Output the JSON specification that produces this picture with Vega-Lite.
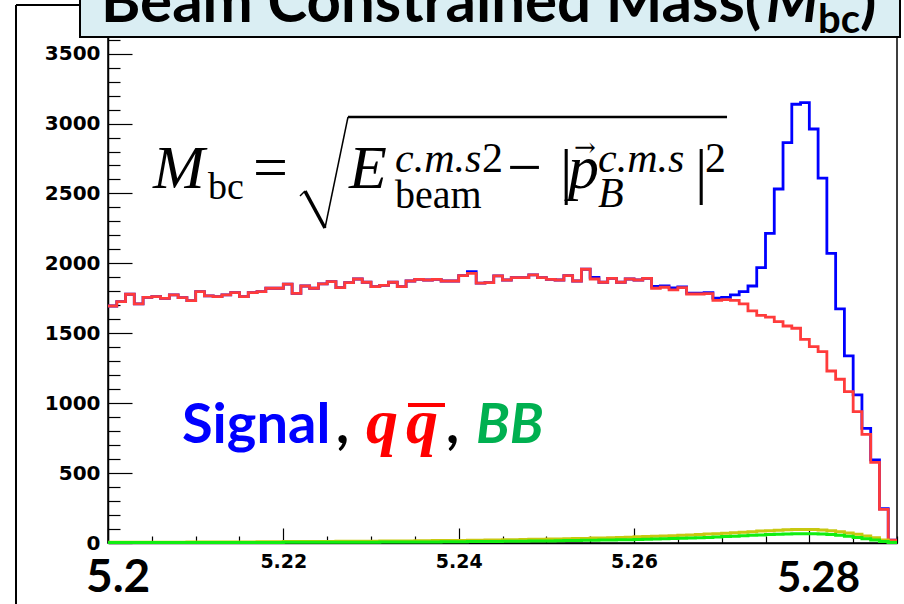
{
  "$schema": "https://vega.github.io/schema/vega-lite/v6.json",
  "width": 789,
  "height": 506,
  "autosize": "none",
  "padding": {"left": 108, "top": 37, "right": 7, "bottom": 61},
  "background": "white",
  "config": {
    "view": {"stroke": "black", "strokeWidth": 1.5},
    "axis": {"grid": false, "title": null, "domainColor": "black", "domainWidth": 1.5, "tickColor": "black", "tickWidth": 1.2, "labelColor": "black", "labelOverlap": false, "tickCount": 100}
  },
  "datasets": {
    "mbc": [
      {"x": 5.200, "qq": 1695, "tot": 1695, "bb": 3, "bby": 5},
      {"x": 5.201, "qq": 1726, "tot": 1726, "bb": 3, "bby": 5},
      {"x": 5.202, "qq": 1779, "tot": 1779, "bb": 3, "bby": 5},
      {"x": 5.203, "qq": 1710, "tot": 1710, "bb": 3, "bby": 5},
      {"x": 5.204, "qq": 1757, "tot": 1757, "bb": 3, "bby": 6},
      {"x": 5.205, "qq": 1762, "tot": 1762, "bb": 3, "bby": 6},
      {"x": 5.206, "qq": 1750, "tot": 1750, "bb": 3, "bby": 6},
      {"x": 5.207, "qq": 1774, "tot": 1774, "bb": 3, "bby": 6},
      {"x": 5.208, "qq": 1755, "tot": 1755, "bb": 3, "bby": 6},
      {"x": 5.209, "qq": 1733, "tot": 1733, "bb": 3, "bby": 7},
      {"x": 5.210, "qq": 1798, "tot": 1798, "bb": 4, "bby": 7},
      {"x": 5.211, "qq": 1767, "tot": 1767, "bb": 4, "bby": 7},
      {"x": 5.212, "qq": 1762, "tot": 1762, "bb": 4, "bby": 7},
      {"x": 5.213, "qq": 1774, "tot": 1774, "bb": 4, "bby": 8},
      {"x": 5.214, "qq": 1791, "tot": 1791, "bb": 4, "bby": 8},
      {"x": 5.215, "qq": 1762, "tot": 1762, "bb": 4, "bby": 8},
      {"x": 5.216, "qq": 1791, "tot": 1791, "bb": 4, "bby": 8},
      {"x": 5.217, "qq": 1798, "tot": 1798, "bb": 4, "bby": 9},
      {"x": 5.218, "qq": 1822, "tot": 1822, "bb": 4, "bby": 9},
      {"x": 5.219, "qq": 1822, "tot": 1822, "bb": 4, "bby": 9},
      {"x": 5.220, "qq": 1851, "tot": 1851, "bb": 5, "bby": 10},
      {"x": 5.221, "qq": 1786, "tot": 1786, "bb": 5, "bby": 10},
      {"x": 5.222, "qq": 1838, "tot": 1838, "bb": 5, "bby": 10},
      {"x": 5.223, "qq": 1822, "tot": 1822, "bb": 5, "bby": 11},
      {"x": 5.224, "qq": 1853, "tot": 1853, "bb": 5, "bby": 11},
      {"x": 5.225, "qq": 1869, "tot": 1869, "bb": 5, "bby": 11},
      {"x": 5.226, "qq": 1827, "tot": 1827, "bb": 5, "bby": 12},
      {"x": 5.227, "qq": 1862, "tot": 1862, "bb": 6, "bby": 12},
      {"x": 5.228, "qq": 1888, "tot": 1888, "bb": 6, "bby": 12},
      {"x": 5.229, "qq": 1865, "tot": 1865, "bb": 6, "bby": 13},
      {"x": 5.230, "qq": 1833, "tot": 1833, "bb": 6, "bby": 13},
      {"x": 5.231, "qq": 1843, "tot": 1843, "bb": 7, "bby": 14},
      {"x": 5.232, "qq": 1865, "tot": 1865, "bb": 7, "bby": 14},
      {"x": 5.233, "qq": 1833, "tot": 1833, "bb": 7, "bby": 15},
      {"x": 5.234, "qq": 1874, "tot": 1874, "bb": 7, "bby": 15},
      {"x": 5.235, "qq": 1886, "tot": 1886, "bb": 8, "bby": 16},
      {"x": 5.236, "qq": 1881, "tot": 1881, "bb": 8, "bby": 16},
      {"x": 5.237, "qq": 1886, "tot": 1886, "bb": 8, "bby": 17},
      {"x": 5.238, "qq": 1874, "tot": 1874, "bb": 9, "bby": 17},
      {"x": 5.239, "qq": 1874, "tot": 1874, "bb": 9, "bby": 18},
      {"x": 5.240, "qq": 1912, "tot": 1912, "bb": 9, "bby": 18},
      {"x": 5.241, "qq": 1929, "tot": 1940, "bb": 10, "bby": 19},
      {"x": 5.242, "qq": 1858, "tot": 1858, "bb": 10, "bby": 20},
      {"x": 5.243, "qq": 1862, "tot": 1862, "bb": 11, "bby": 21},
      {"x": 5.244, "qq": 1910, "tot": 1910, "bb": 11, "bby": 22},
      {"x": 5.245, "qq": 1881, "tot": 1881, "bb": 12, "bby": 23},
      {"x": 5.246, "qq": 1898, "tot": 1898, "bb": 12, "bby": 24},
      {"x": 5.247, "qq": 1898, "tot": 1898, "bb": 13, "bby": 25},
      {"x": 5.248, "qq": 1917, "tot": 1917, "bb": 14, "bby": 26},
      {"x": 5.249, "qq": 1898, "tot": 1898, "bb": 14, "bby": 27},
      {"x": 5.250, "qq": 1886, "tot": 1886, "bb": 15, "bby": 28},
      {"x": 5.251, "qq": 1881, "tot": 1881, "bb": 16, "bby": 29},
      {"x": 5.252, "qq": 1912, "tot": 1912, "bb": 17, "bby": 30},
      {"x": 5.253, "qq": 1874, "tot": 1874, "bb": 18, "bby": 32},
      {"x": 5.254, "qq": 1958, "tot": 1958, "bb": 19, "bby": 33},
      {"x": 5.255, "qq": 1888, "tot": 1900, "bb": 20, "bby": 35},
      {"x": 5.256, "qq": 1865, "tot": 1865, "bb": 21, "bby": 36},
      {"x": 5.257, "qq": 1893, "tot": 1893, "bb": 22, "bby": 38},
      {"x": 5.258, "qq": 1865, "tot": 1865, "bb": 23, "bby": 40},
      {"x": 5.259, "qq": 1888, "tot": 1888, "bb": 24, "bby": 42},
      {"x": 5.260, "qq": 1881, "tot": 1881, "bb": 25, "bby": 44},
      {"x": 5.261, "qq": 1893, "tot": 1893, "bb": 27, "bby": 46},
      {"x": 5.262, "qq": 1822, "tot": 1836, "bb": 28, "bby": 48},
      {"x": 5.263, "qq": 1829, "tot": 1839, "bb": 30, "bby": 50},
      {"x": 5.264, "qq": 1810, "tot": 1824, "bb": 32, "bby": 52},
      {"x": 5.265, "qq": 1827, "tot": 1832, "bb": 34, "bby": 55},
      {"x": 5.266, "qq": 1781, "tot": 1787, "bb": 36, "bby": 58},
      {"x": 5.267, "qq": 1781, "tot": 1787, "bb": 38, "bby": 61},
      {"x": 5.268, "qq": 1783, "tot": 1790, "bb": 40, "bby": 64},
      {"x": 5.269, "qq": 1735, "tot": 1752, "bb": 43, "bby": 67},
      {"x": 5.270, "qq": 1740, "tot": 1757, "bb": 46, "bby": 70},
      {"x": 5.271, "qq": 1735, "tot": 1774, "bb": 49, "bby": 74},
      {"x": 5.272, "qq": 1710, "tot": 1798, "bb": 52, "bby": 77},
      {"x": 5.273, "qq": 1660, "tot": 1838, "bb": 55, "bby": 81},
      {"x": 5.274, "qq": 1628, "tot": 1969, "bb": 58, "bby": 85},
      {"x": 5.275, "qq": 1616, "tot": 2215, "bb": 61, "bby": 88},
      {"x": 5.276, "qq": 1583, "tot": 2532, "bb": 63, "bby": 91},
      {"x": 5.277, "qq": 1552, "tot": 2863, "bb": 65, "bby": 94},
      {"x": 5.278, "qq": 1536, "tot": 3138, "bb": 67, "bby": 96},
      {"x": 5.279, "qq": 1457, "tot": 3150, "bb": 67, "bby": 97},
      {"x": 5.280, "qq": 1404, "tot": 2961, "bb": 66, "bby": 96},
      {"x": 5.281, "qq": 1369, "tot": 2609, "bb": 64, "bby": 93},
      {"x": 5.282, "qq": 1230, "tot": 2072, "bb": 60, "bby": 88},
      {"x": 5.283, "qq": 1171, "tot": 1675, "bb": 55, "bby": 81},
      {"x": 5.284, "qq": 1082, "tot": 1338, "bb": 48, "bby": 72},
      {"x": 5.285, "qq": 939, "tot": 1059, "bb": 40, "bby": 62},
      {"x": 5.286, "qq": 777, "tot": 820, "bb": 31, "bby": 50},
      {"x": 5.287, "qq": 577, "tot": 594, "bb": 21, "bby": 37},
      {"x": 5.288, "qq": 241, "tot": 245, "bb": 11, "bby": 22},
      {"x": 5.289, "qq": 20, "tot": 20, "bb": 3, "bby": 6},
      {"x": 5.290, "qq": 20, "tot": 20, "bb": 3, "bby": 6}
    ],
    "one": [{}]
  },
  "layer": [
    {
      "data": {"name": "mbc"},
      "mark": {"type": "line", "interpolate": "step-after", "color": "#0000ff", "strokeWidth": 2.8},
      "encoding": {
        "x": {
          "field": "x", "type": "quantitative",
          "scale": {"domain": [5.2, 5.29], "nice": false, "zero": false},
          "axis": {
            "values": [5.2, 5.205, 5.21, 5.215, 5.22, 5.225, 5.23, 5.235, 5.24, 5.245, 5.25, 5.255, 5.26, 5.265, 5.27, 5.275, 5.28, 5.285, 5.29],
            "tickCount": 100,
            "labelExpr": "(abs(datum.value-5.22)<0.0001 || abs(datum.value-5.24)<0.0001 || abs(datum.value-5.26)<0.0001) ? format(datum.value, '.2f') : ''",
            "labelFont": "DejaVu Sans", "labelFontWeight": "bold", "labelFontSize": 19,
            "labelPadding": 24, "labelFlush": false,
            "tickSize": {"condition": {"test": "abs(datum.value*50 - round(datum.value*50)) < 0.001", "value": -15}, "value": -7}
          }
        },
        "y": {
          "field": "tot", "type": "quantitative",
          "scale": {"domain": [0, 3619], "nice": false},
          "axis": {
            "values": [0, 100, 200, 300, 400, 500, 600, 700, 800, 900, 1000, 1100, 1200, 1300, 1400, 1500, 1600, 1700, 1800, 1900, 2000, 2100, 2200, 2300, 2400, 2500, 2600, 2700, 2800, 2900, 3000, 3100, 3200, 3300, 3400, 3500, 3600],
            "tickCount": 100,
            "format": "d",
            "labelExpr": "datum.value % 500 === 0 ? datum.label : ''",
            "labelFont": "DejaVu Sans", "labelFontWeight": "bold", "labelFontSize": 20,
            "labelPadding": 32,
            "tickSize": {"condition": {"test": "datum.value % 500 === 0", "value": -24}, "value": -12}
          }
        }
      }
    },
    {
      "data": {"name": "mbc"},
      "mark": {"type": "line", "interpolate": "step-after", "color": "#ff3b3b", "strokeWidth": 2.8},
      "encoding": {"x": {"field": "x", "type": "quantitative"}, "y": {"field": "qq", "type": "quantitative"}}
    },
    {
      "data": {"name": "mbc"},
      "mark": {"type": "line", "interpolate": "step-after", "color": "#c8c810", "strokeWidth": 3},
      "encoding": {"x": {"field": "x", "type": "quantitative"}, "y": {"field": "bby", "type": "quantitative"}}
    },
    {
      "data": {"name": "mbc"},
      "mark": {"type": "line", "interpolate": "step-after", "color": "#11ee11", "strokeWidth": 3},
      "encoding": {"x": {"field": "x", "type": "quantitative"}, "y": {"field": "bb", "type": "quantitative"}}
    },
    {
      "data": {"name": "one"},
      "mark": {"type": "rule", "color": "black", "strokeWidth": 2},
      "encoding": {"x": {"datum": 5.189506}, "y": {"datum": -436}, "y2": {"datum": 3848}}
    },
    {
      "data": {"name": "one"},
      "mark": {"type": "rule", "color": "black", "strokeWidth": 2},
      "encoding": {"x": {"datum": 5.189506}, "x2": {"datum": 5.196806}, "y": {"datum": 3848}}
    },
    {
      "data": {"name": "one"},
      "mark": {"type": "rect", "fill": "#daeef3", "stroke": "black", "strokeWidth": 2},
      "encoding": {"x": {"datum": 5.196806}, "x2": {"datum": 5.290342}, "y": {"datum": 3619}, "y2": {"datum": 4027}}
    },
    {
      "data": {"name": "one"},
      "mark": {"type": "text", "text": "Beam Constrained Mass(", "font": "Lato", "fontWeight": "bold", "fontSize": 60, "align": "left", "baseline": "alphabetic", "color": "black"},
      "encoding": {"x": {"datum": 5.199202}, "y": {"datum": 3726}}
    },
    {
      "data": {"name": "one"},
      "mark": {"type": "text", "text": "M", "font": "Lato", "fontWeight": "bold", "fontStyle": "italic", "fontSize": 60, "align": "left", "baseline": "alphabetic", "color": "black"},
      "encoding": {"x": {"datum": 5.275057}, "y": {"datum": 3726}}
    },
    {
      "data": {"name": "one"},
      "mark": {"type": "text", "text": "bc", "font": "Lato", "fontWeight": "bold", "fontSize": 40, "align": "left", "baseline": "alphabetic", "color": "black"},
      "encoding": {"x": {"datum": 5.280988}, "y": {"datum": 3648}}
    },
    {
      "data": {"name": "one"},
      "mark": {"type": "text", "text": ")", "font": "Lato", "fontWeight": "bold", "fontSize": 60, "align": "left", "baseline": "alphabetic", "color": "black"},
      "encoding": {"x": {"datum": 5.285779}, "y": {"datum": 3726}}
    },
    {
      "data": {"name": "one"},
      "mark": {"type": "text", "text": "M", "font": "Liberation Serif", "fontStyle": "italic", "fontSize": 62, "align": "left", "baseline": "alphabetic", "color": "black"},
      "encoding": {"x": {"datum": 5.205133}, "y": {"datum": 2539}}
    },
    {
      "data": {"name": "one"},
      "mark": {"type": "text", "text": "bc", "font": "Liberation Serif", "fontSize": 38, "align": "left", "baseline": "alphabetic", "color": "black"},
      "encoding": {"x": {"datum": 5.211407}, "y": {"datum": 2460}}
    },
    {
      "data": {"name": "one"},
      "mark": {"type": "text", "text": "=", "font": "Liberation Serif", "fontSize": 62, "align": "left", "baseline": "alphabetic", "color": "black"},
      "encoding": {"x": {"datum": 5.216540}, "y": {"datum": 2539}}
    },
    {
      "data": {"name": "one"},
      "mark": {"type": "rule", "color": "black", "strokeWidth": 1.5},
      "encoding": {"x": {"datum": 5.221901}, "y": {"datum": 2482}, "x2": {"datum": 5.222471}, "y2": {"datum": 2517}}
    },
    {
      "data": {"name": "one"},
      "mark": {"type": "rule", "color": "black", "strokeWidth": 3.5},
      "encoding": {"x": {"datum": 5.222471}, "y": {"datum": 2517}, "x2": {"datum": 5.224753}, "y2": {"datum": 2253}}
    },
    {
      "data": {"name": "one"},
      "mark": {"type": "rule", "color": "black", "strokeWidth": 1.5},
      "encoding": {"x": {"datum": 5.224753}, "y": {"datum": 2253}, "x2": {"datum": 5.227376}, "y2": {"datum": 3047}}
    },
    {
      "data": {"name": "one"},
      "mark": {"type": "rule", "color": "black", "strokeWidth": 2.5},
      "encoding": {"x": {"datum": 5.227376}, "x2": {"datum": 5.270610}, "y": {"datum": 3047}}
    },
    {
      "data": {"name": "one"},
      "mark": {"type": "text", "text": "E", "font": "Liberation Serif", "fontStyle": "italic", "fontSize": 62, "align": "left", "baseline": "alphabetic", "color": "black"},
      "encoding": {"x": {"datum": 5.227490}, "y": {"datum": 2539}}
    },
    {
      "data": {"name": "one"},
      "mark": {"type": "text", "text": "c.m.s", "font": "Liberation Serif", "fontStyle": "italic", "fontSize": 42, "align": "left", "baseline": "alphabetic", "color": "black"},
      "encoding": {"x": {"datum": 5.232738}, "y": {"datum": 2653}}
    },
    {
      "data": {"name": "one"},
      "mark": {"type": "text", "text": "2", "font": "Liberation Serif", "fontSize": 42, "align": "left", "baseline": "alphabetic", "color": "black"},
      "encoding": {"x": {"datum": 5.242661}, "y": {"datum": 2653}}
    },
    {
      "data": {"name": "one"},
      "mark": {"type": "text", "text": "beam", "font": "Liberation Serif", "fontSize": 40, "align": "left", "baseline": "alphabetic", "color": "black"},
      "encoding": {"x": {"datum": 5.232738}, "y": {"datum": 2396}}
    },
    {
      "data": {"name": "one"},
      "mark": {"type": "text", "text": "−", "font": "Liberation Serif", "fontSize": 62, "align": "left", "baseline": "alphabetic", "color": "black"},
      "encoding": {"x": {"datum": 5.245513}, "y": {"datum": 2539}}
    },
    {
      "data": {"name": "one"},
      "mark": {"type": "text", "text": "|", "font": "Liberation Serif", "fontSize": 62, "align": "left", "baseline": "alphabetic", "color": "black"},
      "encoding": {"x": {"datum": 5.251559}, "y": {"datum": 2510}}
    },
    {
      "data": {"name": "one"},
      "mark": {"type": "text", "text": "p", "font": "Liberation Serif", "fontStyle": "italic", "fontSize": 62, "align": "left", "baseline": "alphabetic", "color": "black"},
      "encoding": {"x": {"datum": 5.252471}, "y": {"datum": 2539}}
    },
    {
      "data": {"name": "one"},
      "mark": {"type": "text", "text": "→", "font": "DejaVu Serif", "fontSize": 26, "align": "left", "baseline": "alphabetic", "color": "black"},
      "encoding": {"x": {"datum": 5.253156}, "y": {"datum": 2768}}
    },
    {
      "data": {"name": "one"},
      "mark": {"type": "text", "text": "c.m.s", "font": "Liberation Serif", "fontStyle": "italic", "fontSize": 42, "align": "left", "baseline": "alphabetic", "color": "black"},
      "encoding": {"x": {"datum": 5.255893}, "y": {"datum": 2653}}
    },
    {
      "data": {"name": "one"},
      "mark": {"type": "text", "text": "B", "font": "Liberation Serif", "fontStyle": "italic", "fontSize": 42, "align": "left", "baseline": "alphabetic", "color": "black"},
      "encoding": {"x": {"datum": 5.255893}, "y": {"datum": 2403}}
    },
    {
      "data": {"name": "one"},
      "mark": {"type": "text", "text": "|", "font": "Liberation Serif", "fontSize": 62, "align": "left", "baseline": "alphabetic", "color": "black"},
      "encoding": {"x": {"datum": 5.266958}, "y": {"datum": 2510}}
    },
    {
      "data": {"name": "one"},
      "mark": {"type": "text", "text": "2", "font": "Liberation Serif", "fontSize": 42, "align": "left", "baseline": "alphabetic", "color": "black"},
      "encoding": {"x": {"datum": 5.268099}, "y": {"datum": 2653}}
    },
    {
      "data": {"name": "one"},
      "mark": {"type": "text", "text": "Signal", "font": "Lato", "fontWeight": "bold", "fontSize": 56, "align": "left", "baseline": "alphabetic", "color": "#0000ff"},
      "encoding": {"x": {"datum": 5.208441}, "y": {"datum": 715}}
    },
    {
      "data": {"name": "one"},
      "mark": {"type": "text", "text": ",", "font": "Lato", "fontWeight": "bold", "fontSize": 56, "align": "left", "baseline": "alphabetic", "color": "black"},
      "encoding": {"x": {"datum": 5.226008}, "y": {"datum": 715}}
    },
    {
      "data": {"name": "one"},
      "mark": {"type": "text", "text": "q", "font": "Liberation Serif", "fontWeight": "bold", "fontStyle": "italic", "fontSize": 64, "align": "left", "baseline": "alphabetic", "color": "#ff0000"},
      "encoding": {"x": {"datum": 5.229430}, "y": {"datum": 715}}
    },
    {
      "data": {"name": "one"},
      "mark": {"type": "text", "text": "q", "font": "Liberation Serif", "fontWeight": "bold", "fontStyle": "italic", "fontSize": 64, "align": "left", "baseline": "alphabetic", "color": "#ff0000"},
      "encoding": {"x": {"datum": 5.233992}, "y": {"datum": 715}}
    },
    {
      "data": {"name": "one"},
      "mark": {"type": "rule", "color": "#ff0000", "strokeWidth": 4},
      "encoding": {"x": {"datum": 5.234220}, "x2": {"datum": 5.238441}, "y": {"datum": 987}}
    },
    {
      "data": {"name": "one"},
      "mark": {"type": "text", "text": ",", "font": "Lato", "fontWeight": "bold", "fontSize": 56, "align": "left", "baseline": "alphabetic", "color": "black"},
      "encoding": {"x": {"datum": 5.238555}, "y": {"datum": 715}}
    },
    {
      "data": {"name": "one"},
      "mark": {"type": "text", "text": "BB", "font": "Lato", "fontWeight": "bold", "fontStyle": "italic", "fontSize": 55, "align": "left", "baseline": "alphabetic", "color": "#00b050"},
      "encoding": {"x": {"datum": 5.241977}, "y": {"datum": 715}}
    },
    {
      "data": {"name": "one"},
      "mark": {"type": "text", "text": "5.2", "font": "Lato", "fontWeight": "bold", "fontSize": 46, "align": "left", "baseline": "alphabetic", "color": "black"},
      "encoding": {"x": {"datum": 5.197491}, "y": {"datum": -350}}
    },
    {
      "data": {"name": "one"},
      "mark": {"type": "text", "text": "5.28", "font": "Lato", "fontWeight": "bold", "fontSize": 42, "align": "left", "baseline": "alphabetic", "color": "black"},
      "encoding": {"x": {"datum": 5.276311}, "y": {"datum": -350}}
    }
  ]
}
